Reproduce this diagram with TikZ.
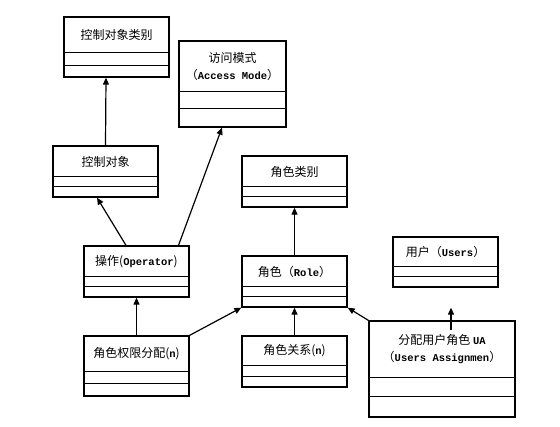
\documentclass[tikz,border=0pt]{standalone}
\usepackage{fontspec}
\setmonofont{Liberation Mono}
\newfontfamily\cjk{Noto Sans CJK SC}
\usetikzlibrary{arrows.meta}
\tikzset{
  umlbox/.style={draw, line width=1.3pt, inner sep=0pt, fill=none},
  divline/.style={line width=1pt},
  lbl/.style={inner sep=0pt, font=\cjk\fontsize{12}{14}\selectfont, align=center},
  arr/.style={line width=1.2pt, -{Triangle[length=7pt,width=6pt]}}
}
\newcommand{\lt}[1]{{\ttfamily\bfseries\fontsize{10.5}{12}\selectfont #1}}
\newcommand{\umlclass}[8]{%
  \node[umlbox, minimum width={#4-#2}, minimum height={#5-#3}] (#1) at ({(#2+#4)/2},{(#3+#5)/2}) {};
  \draw[divline] (#2,#6) -- (#4,#6) (#2,#7) -- (#4,#7);
  \node[lbl] (#1-t) at ({(#2+#4)/2},{(#3+#6)/2}) {#8};
}
\begin{document}
\begin{tikzpicture}[x=1pt,y=-1pt]
\useasboundingbox (0,0) rectangle (560,427);
\umlclass{kol}{64}{17}{169}{77}{53}{66}{控制对象类别}
\umlclass{am}{179}{41}{286}{127}{92}{109}{访问模式\\[3pt]（\lt{Access Mode}）}
\umlclass{ko}{53}{146}{158}{197}{177}{187}{控制对象}
\umlclass{rc}{242}{156}{347}{207}{187}{197}{角色类别}
\umlclass{us}{393}{237}{498}{287}{267}{277}{用户（\lt{Users}）}
\umlclass{op}{84}{246}{189}{297}{277}{287}{操作(\lt{Operator})}
\umlclass{ro}{242}{256}{347}{307}{287}{297}{角色（\lt{Role}）}
\umlclass{rq}{84}{336}{189}{396}{372}{384}{角色权限分配(\lt{n})}
\umlclass{rg}{242}{336}{347}{387}{366}{377}{角色关系(\lt{n})}
\umlclass{ua}{369}{321}{515}{417}{378}{397}{分配用户角色 \lt{UA}\\[3pt]（\lt{Users Assignmen}）}
\draw[arr] (ko.north) -- ([xshift=-10.5pt]kol.south);
\draw[arr] ([xshift=-10.5pt]op.north) -- ([xshift=-8.5pt]ko.south);
\draw[arr] ([xshift=42pt]op.north) -- ([xshift=-10.5pt]am.south);
\draw[arr] (rq.north) -- (op.south);
\draw[arr] (rq.north east) -- (ro.south west);
\draw[arr] (rg.north) -- (ro.south);
\draw[arr] (ro.north) -- (rc.south);
\draw[arr] (ua.north west) -- (ro.south east);
\coordinate (uatip) at ([xshift=5.5pt,yshift=-20pt]us.south);
\draw[arr] ([xshift=9pt,yshift=-10pt]ua.north) -- (uatip);
\end{tikzpicture}
\end{document}
